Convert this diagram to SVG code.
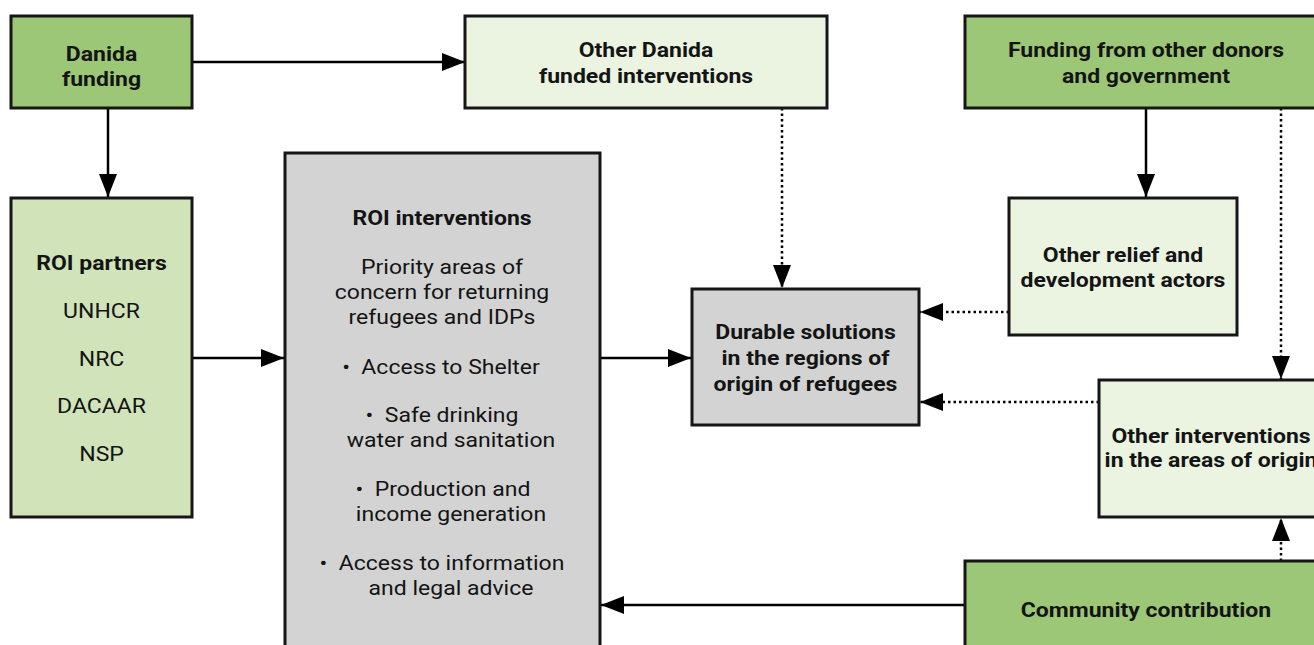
<svg xmlns="http://www.w3.org/2000/svg" width="1314" height="645" viewBox="0 0 1314 645">
<style>
.box{stroke:#161616;stroke-width:3}
.dark{fill:#9bc777}
.mid{fill:#d0e3b9}
.light{fill:#ebf3e1}
.gray{fill:#d3d3d3}
text{font-family:Roboto,"Liberation Sans",sans-serif;font-size:20px;fill:#141414;text-anchor:middle}
.b{font-weight:bold}
.ln{stroke:#000;stroke-width:2.5;fill:none}
.dot{stroke:#000;stroke-width:2.5;fill:none;stroke-dasharray:2.5 3}
</style>
<defs>
<marker id="ah" markerUnits="userSpaceOnUse" markerWidth="24" markerHeight="18" refX="23" refY="9" orient="auto">
<path d="M0,0 L23,9 L0,18 z" fill="#000"/>
</marker>
</defs>
<g id="connectors">
<line class="ln" x1="192" y1="62" x2="465" y2="62" marker-end="url(#ah)"/>
<line class="ln" x1="108" y1="108" x2="108" y2="197" marker-end="url(#ah)"/>
<line class="ln" x1="192" y1="358" x2="284" y2="358" marker-end="url(#ah)"/>
<line class="ln" x1="600" y1="358" x2="691" y2="358" marker-end="url(#ah)"/>
<line class="dot" x1="782" y1="108" x2="782" y2="288" marker-end="url(#ah)"/>
<line class="ln" x1="1146" y1="108" x2="1146" y2="197" marker-end="url(#ah)"/>
<line class="dot" x1="1281" y1="108" x2="1281" y2="379" marker-end="url(#ah)"/>
<line class="dot" x1="1009" y1="312" x2="920" y2="312" marker-end="url(#ah)"/>
<line class="dot" x1="1099" y1="402" x2="920" y2="402" marker-end="url(#ah)"/>
<line class="dot" x1="1281" y1="561" x2="1281" y2="518" marker-end="url(#ah)"/>
<line class="ln" x1="965" y1="605" x2="601" y2="605" marker-end="url(#ah)"/>
</g>
<g id="danida-funding">
<rect class="box dark" x="11" y="16" width="181" height="92"/>
<text class="b" x="0" y="61" transform="translate(101.5 0) scale(1.15 1)">Danida</text>
<text class="b" x="0" y="86" transform="translate(101.5 0) scale(1.15 1)">funding</text>
</g>
<g id="other-danida">
<rect class="box light" x="465" y="16" width="362" height="92"/>
<text class="b" x="0" y="57" transform="translate(646 0) scale(1.15 1)">Other Danida</text>
<text class="b" x="0" y="83" transform="translate(646 0) scale(1.15 1)">funded interventions</text>
</g>
<g id="other-donors">
<rect class="box dark" x="965" y="16" width="362" height="92"/>
<text class="b" x="0" y="57" transform="translate(1146 0) scale(1.15 1)">Funding from other donors</text>
<text class="b" x="0" y="83" transform="translate(1146 0) scale(1.15 1)">and government</text>
</g>
<g id="roi-partners">
<rect class="box mid" x="11" y="198" width="181" height="319"/>
<text class="b" x="0" y="270" transform="translate(101.5 0) scale(1.15 1)">ROI partners</text>
<text x="0" y="318" transform="translate(101.5 0) scale(1.15 1)">UNHCR</text>
<text x="0" y="366" transform="translate(101.5 0) scale(1.15 1)">NRC</text>
<text x="0" y="413" transform="translate(101.5 0) scale(1.15 1)">DACAAR</text>
<text x="0" y="461" transform="translate(101.5 0) scale(1.15 1)">NSP</text>
</g>
<g id="roi-interventions">
<rect class="box gray" x="285" y="153" width="315" height="500"/>
<text class="b" x="0" y="225" transform="translate(442 0) scale(1.15 1)">ROI interventions</text>
<text x="0" y="274" transform="translate(442 0) scale(1.15 1)">Priority areas of</text>
<text x="0" y="299.5" transform="translate(442 0) scale(1.15 1)">concern for returning</text>
<text x="0" y="324.5" transform="translate(442 0) scale(1.15 1)">refugees and IDPs</text>
<text x="0" y="374" transform="translate(441 0) scale(1.15 1)" xml:space="preserve">•  Access to Shelter</text>
<text x="0" y="422" transform="translate(442 0) scale(1.15 1)" xml:space="preserve">•  Safe drinking</text>
<text x="0" y="447" transform="translate(451 0) scale(1.15 1)">water and sanitation</text>
<text x="0" y="496" transform="translate(443 0) scale(1.15 1)" xml:space="preserve">•  Production and</text>
<text x="0" y="521" transform="translate(451 0) scale(1.15 1)">income generation</text>
<text x="0" y="570" transform="translate(442 0) scale(1.15 1)" xml:space="preserve">•  Access to information</text>
<text x="0" y="595" transform="translate(451 0) scale(1.15 1)">and legal advice</text>
</g>
<g id="durable-solutions">
<rect class="box gray" x="692" y="289" width="227" height="136"/>
<text class="b" x="0" y="339" transform="translate(805.5 0) scale(1.15 1)">Durable solutions</text>
<text class="b" x="0" y="365" transform="translate(805.5 0) scale(1.15 1)">in the regions of</text>
<text class="b" x="0" y="391" transform="translate(805.5 0) scale(1.15 1)">origin of refugees</text>
</g>
<g id="other-relief">
<rect class="box light" x="1009" y="198" width="228" height="137"/>
<text class="b" x="0" y="262" transform="translate(1123 0) scale(1.15 1)">Other relief and</text>
<text class="b" x="0" y="287" transform="translate(1123 0) scale(1.15 1)">development actors</text>
</g>
<g id="other-interventions">
<rect class="box light" x="1099" y="380" width="224" height="137"/>
<text class="b" x="0" y="443" transform="translate(1211 0) scale(1.15 1)">Other interventions</text>
<text class="b" x="0" y="467" transform="translate(1211 0) scale(1.15 1)">in the areas of origin</text>
</g>
<g id="community">
<rect class="box dark" x="965" y="561" width="362" height="100"/>
<text class="b" x="0" y="617" transform="translate(1146 0) scale(1.15 1)">Community contribution</text>
</g>
</svg>
